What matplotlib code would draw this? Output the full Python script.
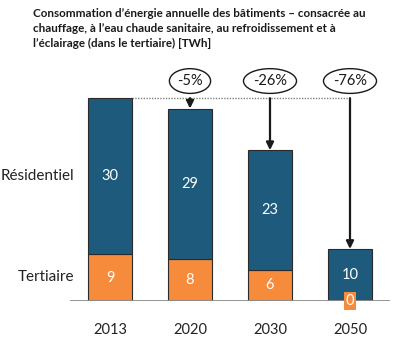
import matplotlib
matplotlib.use('Agg')
import matplotlib.pyplot as plt

years = ['2013', '2020', '2030', '2050']
residentiel = [30, 29, 23, 10]
tertiaire = [9, 8, 6, 0]
reductions = ['-5%', '-26%', '-76%']
row_labels = ['Résidentiel', 'Tertiaire']
title = ("Consommation d’énergie annuelle des bâtiments – consacrée au\n"
         "chauffage, à l’eau chaude sanitaire, au refroidissement et à\n"
         "l’éclairage (dans le tertiaire) [TWh]")

BLUE = '#1E5A7C'
ORANGE = '#F78B3C'
EDGE = '#2a2a2a'

plt.rcParams['font.family'] = ['Lato', 'DejaVu Sans']

W, H = 400, 340
fig = plt.figure(figsize=(W / 100, H / 100), dpi=100)
ax = fig.add_axes([70 / W, 39 / H, 320 / W, 260 / H])
ax.set_xlim(-0.5, 3.5)
ax.set_ylim(0, 50)

x = list(range(len(years)))
bw = 0.55
ax.bar(x, tertiaire, bw, color=ORANGE, edgecolor=EDGE, linewidth=0.8, zorder=3)
ax.bar(x, residentiel, bw, bottom=tertiaire, color=BLUE, edgecolor=EDGE,
       linewidth=0.8, zorder=3)

for xi, t, r in zip(x, tertiaire, residentiel):
    ax.text(xi, t + r / 2, str(r), ha='center', va='center', color='white',
            fontsize=10.5, zorder=5)
    if t > 0:
        ax.text(xi, t / 2, str(t), ha='center', va='center', color='white',
                fontsize=10.5, zorder=5)
    else:
        ax.text(xi, 0, str(t), ha='center', va='center', color='white',
                fontsize=10.5, zorder=6, clip_on=False,
                bbox=dict(boxstyle='square,pad=0.15', fc=ORANGE, ec='none'))

ax.axhline(0, color='#8a8a8a', lw=1.3, zorder=4)

totals = [t + r for t, r in zip(tertiaire, residentiel)]
ref = totals[0]
ax.plot([x[0] + bw / 2, x[-1]], [ref, ref], ls=(0, (1, 1)), color='#808080',
        lw=1.0, zorder=2)

for xi, tot, lab in zip(x[1:], totals[1:], reductions):
    ax.annotate('', xy=(xi, tot), xytext=(xi, ref),
                arrowprops=dict(arrowstyle='-|>,head_length=0.45,head_width=0.22',
                                color='#1a1a1a', lw=1.6, shrinkA=0, shrinkB=0),
                zorder=5)
    ax.text(xi, 42.3, lab, ha='center', va='center', fontsize=10.5,
            color='#1a1a1a', zorder=6,
            bbox=dict(boxstyle='ellipse,pad=0.12', fc='white', ec='#1a1a1a', lw=1.0))

ax.text(-0.45, 24.0, row_labels[0], ha='right', va='center', fontsize=11,
        color='#222222', clip_on=False)
ax.text(-0.45, 4.6, row_labels[1], ha='right', va='center', fontsize=11,
        color='#222222', clip_on=False)

ax.set_xticks(x, years, fontsize=10.5, color='#222222')
ax.tick_params(axis='x', length=0, pad=16)
ax.set_yticks([])
for s in ax.spines.values():
    s.set_visible(False)

fig.text(33 / W, 1 - 8 / H, title, ha='left', va='top', fontsize=8.4,
         fontweight='bold', color='#1a1a1a', linespacing=1.45)

fig.savefig('out.png', dpi=100)
